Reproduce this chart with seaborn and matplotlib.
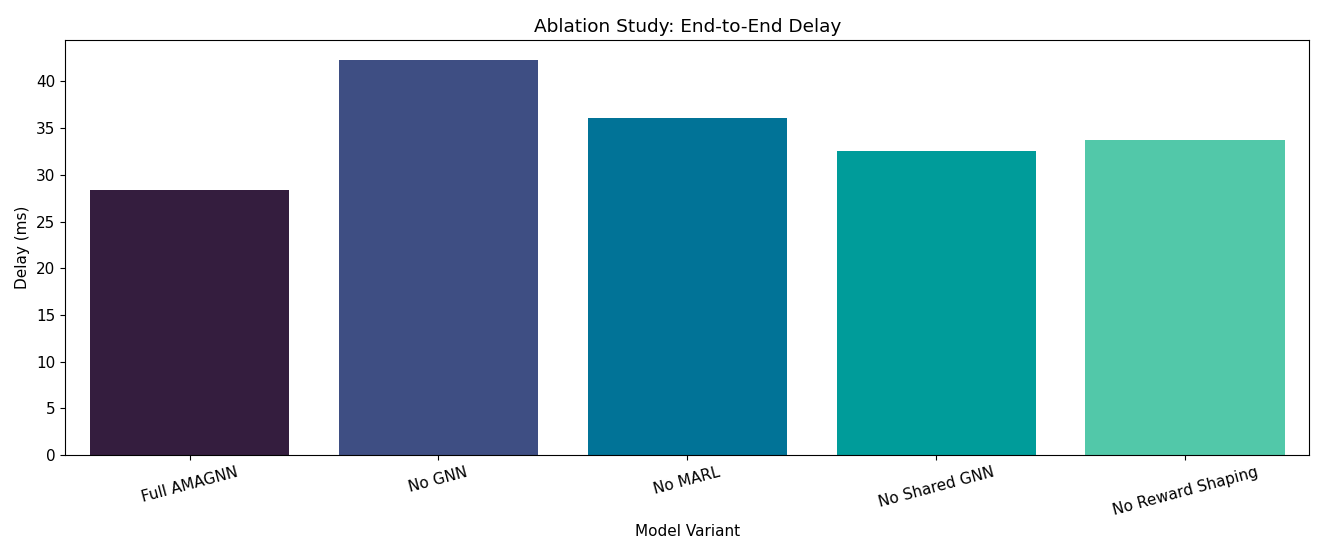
import pandas as pd
import seaborn as sns
import matplotlib.pyplot as plt

# Data
variants = ['Full AMAGNN', 'No GNN', 'No MARL', 'No Shared GNN', 'No Reward Shaping']
delays = [28.4, 42.3, 36.1, 32.5, 33.7]
colors = ['#341d3e', '#3e4e83', '#017397', '#009c9a', '#52c8a9']

data = pd.DataFrame({'Model Variant': variants, 'Delay (ms)': delays})

fig, ax = plt.subplots(figsize=(13.28, 5.43), dpi=100)
sns.barplot(x='Model Variant', y='Delay (ms)', hue='Model Variant', data=data,
            palette=colors, legend=False, saturation=1, ax=ax)

# Labels and title
ax.set_title('Ablation Study: End-to-End Delay', fontsize=13.3)
ax.set_xlabel('Model Variant', fontsize=11)
ax.set_ylabel('Delay (ms)', fontsize=11)
ax.tick_params(labelsize=11)

# Better readability
plt.xticks(rotation=15)
plt.subplots_adjust(left=0.049, right=0.986, top=0.926, bottom=0.162)

plt.savefig('out.png')
